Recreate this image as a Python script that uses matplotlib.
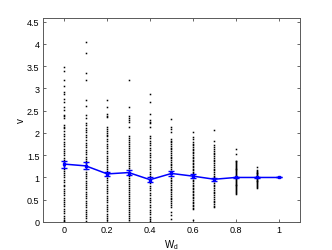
import matplotlib
matplotlib.use("Agg")
import matplotlib.pyplot as plt

# W_d values (columns of scattered samples)
wd = [0.0, 0.1, 0.2, 0.3, 0.4, 0.5, 0.6, 0.7, 0.8, 0.9, 1.0]

# samples of v per W_d column
v_00 = [3.48, 3.39, 3.18, 3.06, 2.93, 2.88, 2.76, 2.70, 2.59, 2.52, 2.40, 2.37, 2.34, 2.18, 2.14, 2.11,
        2.04, 1.98, 1.93, 1.86, 1.80, 1.76, 1.70, 1.64, 1.60, 1.55, 1.50, 1.44, 1.40, 1.35, 1.30, 1.26,
        1.20, 1.15, 1.10, 1.06, 1.00, 0.95, 0.90, 0.84, 0.80, 0.75, 0.70, 0.64, 0.60, 0.55, 0.50, 0.44,
        0.40, 0.36, 0.30, 0.25, 0.20, 0.14, 0.10, 0.05, 0.02, 0.00]
v_01 = [4.05, 3.80, 3.35, 3.18, 2.73, 2.61, 2.40, 2.34, 2.22, 2.18, 2.11,
        2.06, 2.01, 1.95, 1.90, 1.84, 1.78, 1.73, 1.68, 1.62, 1.57, 1.52, 1.47, 1.42, 1.37, 1.32, 1.28,
        1.23, 1.18, 1.13, 1.08, 1.03, 0.98, 0.93, 0.88, 0.83, 0.78, 0.73, 0.68, 0.63, 0.58, 0.53, 0.48,
        0.43, 0.38, 0.33, 0.28, 0.23, 0.18, 0.13, 0.08, 0.03]
v_02 = [2.73, 2.59, 2.43, 2.39, 2.36, 2.13, 2.09, 2.05, 2.00, 1.96, 1.93,
        1.87, 1.82, 1.76, 1.71, 1.66, 1.60, 1.55, 1.49, 1.44, 1.39, 1.34, 1.29, 1.24, 1.19, 1.14, 1.09,
        1.04, 0.99, 0.94, 0.89, 0.84, 0.79, 0.74, 0.69, 0.64, 0.59, 0.54, 0.49, 0.44, 0.39, 0.34, 0.29,
        0.24, 0.19, 0.14, 0.09, 0.04, 0.00]
v_03 = [3.18, 2.58, 2.37, 2.33, 2.29, 2.25, 2.13, 1.93, 1.89,
        1.84, 1.80, 1.75, 1.70, 1.66, 1.61, 1.57, 1.52, 1.48, 1.43, 1.39, 1.34, 1.30, 1.25, 1.21, 1.16,
        1.12, 1.07, 1.03, 0.98, 0.94, 0.89, 0.85, 0.80, 0.76, 0.71, 0.67, 0.62, 0.58, 0.53, 0.49, 0.44,
        0.40, 0.35, 0.31, 0.26, 0.22, 0.17, 0.13, 0.08, 0.04, 0.01]
v_04 = [2.88, 2.70, 2.43, 2.28, 2.25, 2.22, 2.13, 1.93,
        1.88, 1.83, 1.77, 1.72, 1.67, 1.61, 1.56, 1.51, 1.45, 1.40, 1.35, 1.29, 1.24, 1.19, 1.13, 1.08,
        1.03, 0.97, 0.92, 0.87, 0.81, 0.76, 0.71, 0.65, 0.60, 0.55, 0.49, 0.44, 0.39, 0.33, 0.28, 0.23,
        0.17, 0.12, 0.07, 0.02]
v_05 = [2.31, 2.13, 2.08, 2.02, 1.87,
        1.83, 1.79, 1.75, 1.71, 1.67, 1.63, 1.59, 1.55, 1.51, 1.47, 1.43, 1.39, 1.35, 1.31, 1.27, 1.23,
        1.19, 1.15, 1.11, 1.07, 1.03, 0.99, 0.95, 0.91, 0.87, 0.83, 0.79, 0.75, 0.71, 0.67, 0.63, 0.59,
        0.55, 0.51, 0.47, 0.43, 0.39, 0.34, 0.22, 0.15, 0.07]
v_06 = [2.03, 1.91, 1.86, 1.80,
        1.75, 1.72, 1.68, 1.65, 1.61, 1.58, 1.54, 1.51, 1.47, 1.44, 1.40, 1.37, 1.33, 1.30, 1.26, 1.23,
        1.19, 1.16, 1.12, 1.09, 1.05, 1.02, 0.98, 0.95, 0.91, 0.88, 0.84, 0.81, 0.77, 0.74, 0.70, 0.67,
        0.63, 0.60, 0.56, 0.53, 0.49, 0.46, 0.42, 0.39, 0.35, 0.32, 0.29, 0.04]
v_07 = [2.07, 1.83, 1.74, 1.69,
        1.64, 1.60, 1.56, 1.52, 1.48, 1.44, 1.40, 1.36, 1.32, 1.28, 1.24, 1.20, 1.16, 1.12, 1.08, 1.04,
        1.00, 0.96, 0.92, 0.88, 0.84, 0.80, 0.76, 0.72, 0.68, 0.64, 0.60, 0.56, 0.52, 0.48, 0.44, 0.40,
        0.37, 0.33]
v_08 = [1.64, 1.53,
        1.38, 1.36, 1.34, 1.32, 1.30, 1.28, 1.26, 1.24, 1.22, 1.20, 1.18, 1.16, 1.14, 1.12, 1.10, 1.08,
        1.06, 1.04, 1.02, 1.00, 0.98, 0.96, 0.94, 0.92, 0.90, 0.88, 0.86, 0.84, 0.82, 0.80, 0.78, 0.76,
        0.74, 0.72, 0.70, 0.68, 0.66, 0.63]
v_09 = [1.24,
        1.17, 1.15, 1.13, 1.11, 1.09, 1.07, 1.05, 1.03, 1.01, 0.99, 0.97, 0.95, 0.93, 0.91, 0.89, 0.87,
        0.85, 0.83, 0.81, 0.79, 0.76]
v_10 = [1.00]
samples = [v_00, v_01, v_02, v_03, v_04, v_05, v_06, v_07, v_08, v_09, v_10]

# mean and error bar half-widths
v_mean = [1.30, 1.26, 1.08, 1.11, 0.95, 1.09, 1.03, 0.96, 1.00, 1.00, 1.00]
v_err = [0.08, 0.08, 0.05, 0.05, 0.05, 0.05, 0.04, 0.03, 0.02, 0.01, 0.0]

plt.rcParams['font.family'] = ['Liberation Sans', 'DejaVu Sans']

fig = plt.figure(figsize=(3.32, 2.51), dpi=100)
ax = fig.add_axes([0.1295, 0.1116, 0.7741, 0.8124])

for x, vals in zip(wd, samples):
    ax.plot([x] * len(vals), vals, linestyle='none', marker='s', markersize=1.1,
            markeredgewidth=0, color='black')

ax.errorbar(wd, v_mean, yerr=v_err, color='blue', linewidth=1.1, marker='s', markersize=2.0,
            capsize=2.2, elinewidth=1.0, capthick=1.0)

ax.set_xlim(-0.1, 1.1)
ax.set_ylim(0, 4.58)
ax.set_xticks([0, 0.2, 0.4, 0.6, 0.8, 1])
ax.set_xticklabels(['0', '0.2', '0.4', '0.6', '0.8', '1'])
ax.set_yticks([0, 0.5, 1, 1.5, 2, 2.5, 3, 3.5, 4, 4.5])
ax.set_yticklabels(['0', '0.5', '1', '1.5', '2', '2.5', '3', '3.5', '4', '4.5'])
ax.tick_params(direction='in', length=2.5, width=0.6, labelsize=6.5, top=True, right=True,
               color='0.3', pad=2.5)
for s in ax.spines.values():
    s.set_color('0.35')
    s.set_linewidth(0.7)

ax.set_xlabel('W$_\\mathregular{d}$', fontsize=7, labelpad=2)
ax.set_ylabel('v', fontsize=7, labelpad=1)

fig.savefig('out.png', dpi=100)
